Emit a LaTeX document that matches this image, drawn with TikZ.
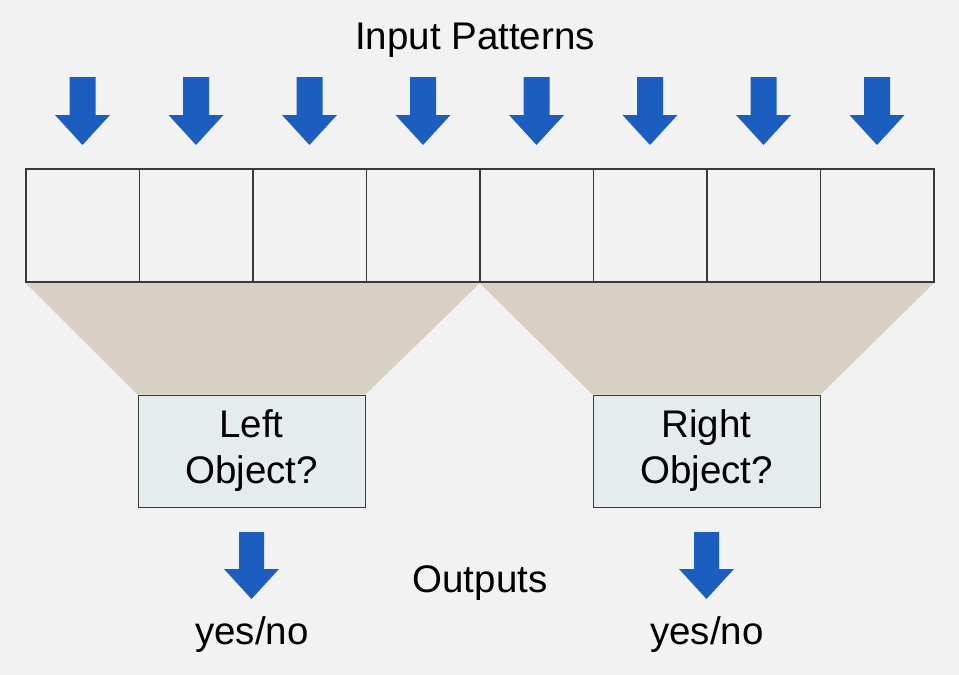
\documentclass[tikz,border=0pt]{standalone}
\usepackage{fontspec}
\setmainfont{Liberation Sans}
\usetikzlibrary{backgrounds}
\definecolor{bgc}{HTML}{F2F2F2}
\definecolor{trap}{HTML}{D8D0C2}
\definecolor{boxc}{HTML}{E4ECEE}
\definecolor{arrc}{HTML}{1C5EBF}
\definecolor{edgec}{HTML}{3A3A3A}
\tikzset{
  cell/.style={draw=edgec, line width=1.5pt, minimum width=113.5pt, minimum height=113pt, inner sep=0pt, anchor=north west},
  objbox/.style={draw=edgec, line width=1pt, fill=boxc, minimum width=227pt, minimum height=112pt, inner sep=0pt, align=center, font=\fontsize{38.5}{46}\selectfont},
  lbl/.style={font=\fontsize{38.5}{43}\selectfont, anchor=base, inner sep=0pt},
  blue arrow/.style={fill=arrc},
}
\begin{document}
\begin{tikzpicture}[x=1pt,y=-1pt]
\useasboundingbox (0,0) rectangle (959,675);
\node[lbl] (title) at (475,49) {Input Patterns};
% cells
\foreach \i in {0,...,7} {
  \node[cell] (c\i) at ({25+113.5*\i},168) {};
}
% object boxes
\node[objbox] (left) at (251.5,451) {Left\\Object?};
\node[objbox] (right) at (706.5,451) {Right\\Object?};
% background and trapezoids
\begin{pgfonlayer}{background}
\fill[bgc] (0,0) rectangle (959,675);
\fill[trap] (c0.south west) -- (c3.south east) -- (left.north east) -- (left.north west) -- cycle;
\fill[trap] (c4.south west) -- (c7.south east) -- (right.north east) -- (right.north west) -- cycle;
\end{pgfonlayer}
% input arrows
\foreach \i in {0,...,7} {
  \fill[blue arrow] ([xshift=-13pt]c\i.north |- 0,77) -- ([xshift=13pt]c\i.north |- 0,77)
    -- ([xshift=13pt]c\i.north |- 0,115) -- ([xshift=27.5pt]c\i.north |- 0,115)
    -- (c\i.north |- 0,145) -- ([xshift=-27.5pt]c\i.north |- 0,115)
    -- ([xshift=-13pt]c\i.north |- 0,115) -- cycle;
}
% output arrows
\foreach \b in {left,right} {
  \fill[blue arrow] ([xshift=-12.5pt]\b.south |- 0,532) -- ([xshift=12.5pt]\b.south |- 0,532)
    -- ([xshift=12.5pt]\b.south |- 0,569) -- ([xshift=27.5pt]\b.south |- 0,569)
    -- (\b.south |- 0,599) -- ([xshift=-27.5pt]\b.south |- 0,569)
    -- ([xshift=-12.5pt]\b.south |- 0,569) -- cycle;
}
\node[lbl] (outputs) at (480,592) {Outputs};
\node[lbl] (yl) at (252,644) {yes/no};
\node[lbl] (yr) at (707,644) {yes/no};
\end{tikzpicture}
\end{document}
